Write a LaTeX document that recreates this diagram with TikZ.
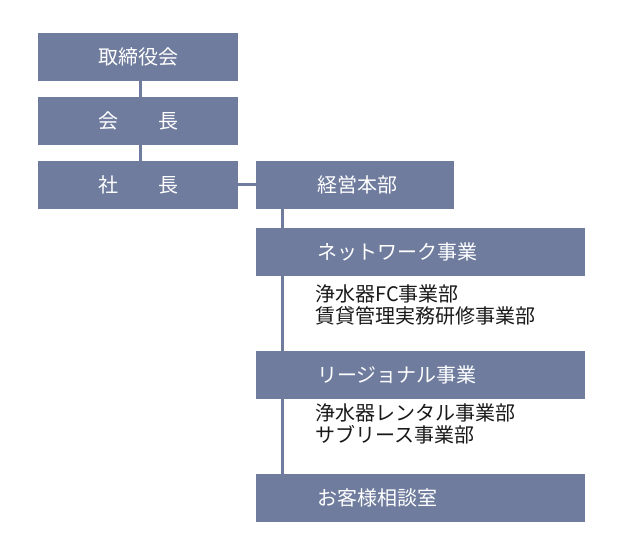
\documentclass[tikz,border=0pt]{standalone}
\usepackage{fontspec}
\setmainfont{Noto Sans CJK JP}
\definecolor{boxc}{RGB}{111,124,158}
\tikzset{
  box/.style={fill=boxc, draw=none, inner sep=0pt, minimum height=47.5pt, anchor=north west,
    text=white, font=\fontsize{20}{22}\selectfont},
  cbox/.style={box, minimum width=#1, align=center},
  lbox/.style={box, text width=#1, align=left},
  conn/.style={draw=boxc, line width=3pt},
  subtext/.style={anchor=west, align=left, inner sep=0pt, text=black!90,
    font=\fontsize{20}{21.5}\selectfont}
}
\begin{document}
\begin{tikzpicture}[x=1pt,y=-1pt]
\useasboundingbox (0,0) rectangle (640,539);
\node[cbox=200pt] (board) at (38,33) {取締役会};
\node[cbox=200pt] (chair) at (38,97) {会　　長};
\node[cbox=200pt] (pres) at (38,161) {社　　長};
\node[lbox=198pt] (keiei) at (256,161) {\hspace*{61pt}経営本部};
\node[lbox=329pt] (net) at (256,228) {\hspace*{61pt}ネットワーク事業};
\node[lbox=329pt] (reg) at (256,351) {\hspace*{61pt}リージョナル事業};
\node[lbox=329pt] (soudan) at (256,474) {\hspace*{61pt}お客様相談室};
\node[subtext] (sub1) at (315,305) {浄水器FC事業部\\賃貸管理実務研修事業部};
\node[subtext] (sub2) at (315,424) {浄水器レンタル事業部\\サブリース事業部};
\draw[conn] ([xshift=2pt]board.south) -- ([xshift=2pt]chair.north);
\draw[conn] ([xshift=2pt]chair.south) -- ([xshift=2pt]pres.north);
\draw[conn] (pres.east) -- (keiei.west);
\draw[conn] ([xshift=26.5pt]keiei.south west) -- ([xshift=26.5pt]net.north west);
\draw[conn] ([xshift=26.5pt]net.south west) -- ([xshift=26.5pt]reg.north west);
\draw[conn] ([xshift=26.5pt]reg.south west) -- ([xshift=26.5pt]soudan.north west);
\end{tikzpicture}
\end{document}
